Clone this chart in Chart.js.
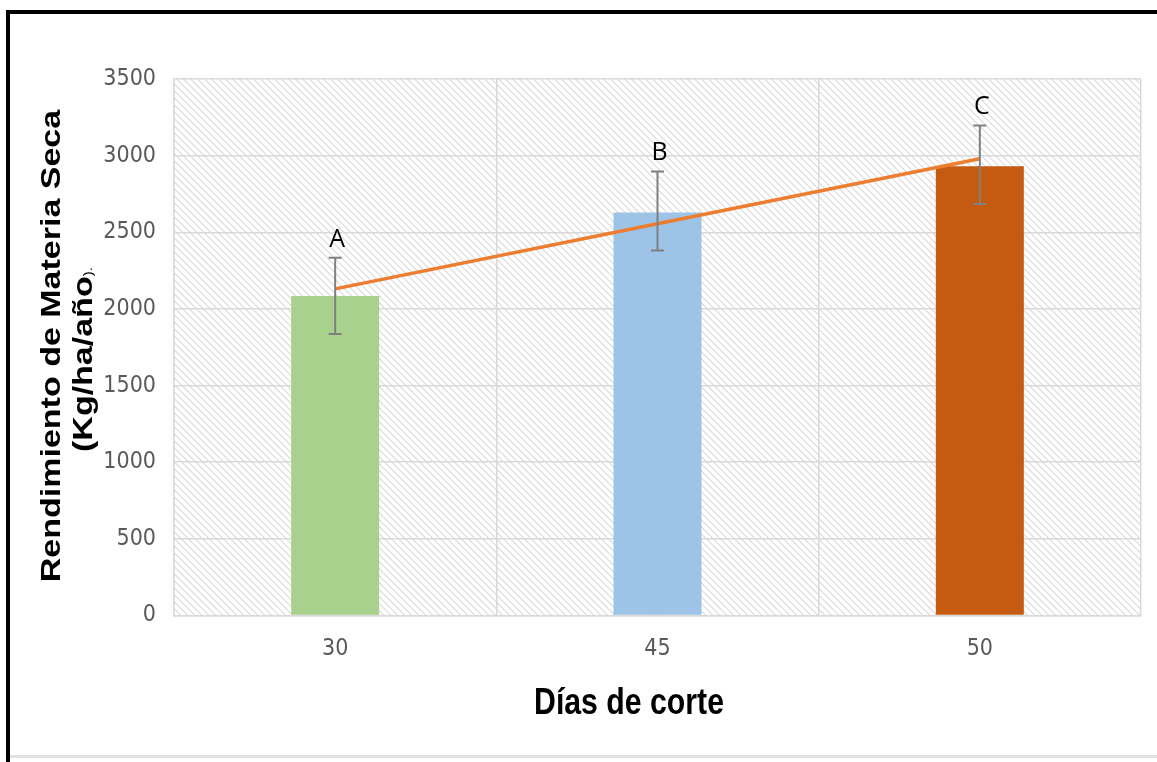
<!DOCTYPE html>
<html>
<head>
<meta charset="utf-8">
<script src="https://cdn.jsdelivr.net/npm/chart.js@4"></script>
<style>
  body { margin: 0; background: #fff; }
  #wrap { position: relative; width: 1157px; height: 762px; overflow: hidden; }
  #frame { position: absolute; left: 6px; top: 10px; right: -10px; bottom: -10px;
           border-top: 4px solid #000; border-left: 4px solid #000; }
  #foot { position: absolute; left: 10px; right: 0; top: 755px; height: 3px; background: #e2e2e2; }
</style>
</head>
<body>
<div id="wrap">
  <canvas id="chart" width="1157" height="762"></canvas>
  <div id="frame"></div>
  <div id="foot"></div>
</div>
<script>
const dias = ['30', '45', '50'];
const rendimiento = [2085, 2629, 2930];
const errHigh = [2334, 2897, 3197];
const errLow = [1837, 2381, 2684];
const letras = ['A', 'B', 'C'];
const tendencia = [2131, 2556, 2980];
const colores = ['#A9D18E', '#9DC3E6', '#C55A11'];
const yTicks = [0, 500, 1000, 1500, 2000, 2500, 3000, 3500];

const tickFont = { family: "'Liberation Sans Narrow', 'DejaVu Sans Condensed', sans-serif", size: 23 };

// hatched plot background
const hatch = {
  id: 'hatch',
  beforeDraw(chart) {
    const { ctx, chartArea: a } = chart;
    ctx.save();
    ctx.beginPath();
    ctx.rect(a.left, a.top, a.right - a.left, a.bottom - a.top);
    ctx.clip();
    ctx.strokeStyle = '#c6c6c6';
    ctx.lineWidth = 1;
    ctx.beginPath();
    const h = a.bottom - a.top;
    for (let x = a.left - h; x < a.right; x += 7) {
      ctx.moveTo(x, a.top);
      ctx.lineTo(x + h, a.bottom);
    }
    ctx.stroke();
    ctx.restore();
  }
};

// error bars + letters
const errores = {
  id: 'errores',
  afterDatasetsDraw(chart) {
    const { ctx } = chart;
    const xs = chart.scales.x, ys = chart.scales.y;
    ctx.save();
    ctx.strokeStyle = '#808080';
    ctx.lineWidth = 2;
    dias.forEach((d, i) => {
      const x = xs.getPixelForValue(i);
      const t = ys.getPixelForValue(errHigh[i]);
      const b = ys.getPixelForValue(errLow[i]);
      ctx.beginPath();
      ctx.moveTo(x, t); ctx.lineTo(x, b);
      ctx.moveTo(x - 6.5, t); ctx.lineTo(x + 6.5, t);
      ctx.moveTo(x - 6.5, b); ctx.lineTo(x + 6.5, b);
      ctx.stroke();
      ctx.fillStyle = '#000';
      ctx.font = "25px 'Open Sans', sans-serif";
      ctx.textAlign = 'center';
      ctx.textBaseline = 'alphabetic';
      ctx.fillText(letras[i], x + 2, t - 11);
    });
    ctx.restore();
  }
};

// axis titles (squeezed like the original image)
const titulos = {
  id: 'titulos',
  afterDraw(chart) {
    const { ctx } = chart;
    ctx.save();
    ctx.fillStyle = '#000';
    ctx.textBaseline = 'alphabetic';
    // x title
    ctx.save();
    ctx.translate(629, 714);
    ctx.scale(0.84, 1);
    ctx.font = "bold 36px 'Liberation Sans', Arial, sans-serif";
    ctx.textAlign = 'center';
    ctx.fillText('Días de corte', 0, 0);
    ctx.restore();
    // y title line 1
    ctx.save();
    ctx.translate(60, 346);
    ctx.rotate(-Math.PI / 2);
    ctx.scale(1, 0.84);
    ctx.font = "bold 34px 'Liberation Sans', Arial, sans-serif";
    ctx.textAlign = 'center';
    ctx.fillText('Rendimiento de Materia Seca', 0, 0);
    ctx.restore();
    // y title line 2
    ctx.save();
    ctx.translate(92, 452);
    ctx.rotate(-Math.PI / 2);
    ctx.scale(1, 0.84);
    ctx.font = "bold 34px 'Liberation Sans', Arial, sans-serif";
    ctx.textAlign = 'left';
    const parte = '(Kg/ha/año';
    ctx.fillText(parte, 0, 0);
    const w = ctx.measureText(parte).width;
    ctx.font = "15px 'Liberation Sans', Arial, sans-serif";
    ctx.fillText(').', w, 0);
    ctx.restore();
    ctx.restore();
  }
};

const ctx = document.getElementById('chart').getContext('2d');
const chart = new Chart(ctx, {
  type: 'bar',
  data: {
    labels: dias,
    datasets: [
      {
        type: 'line',
        data: tendencia,
        borderColor: '#ED7D31',
        borderWidth: 3.5,
        pointRadius: 0,
        tension: 0,
        fill: false,
        order: 0
      },
      {
        type: 'bar',
        data: rendimiento,
        backgroundColor: colores,
        borderWidth: 0,
        barPercentage: 0.273,
        categoryPercentage: 1,
        order: 1
      }
    ]
  },
  options: {
    responsive: false,
    devicePixelRatio: 1,
    animation: false,
    layout: { padding: { left: 0, top: 79, right: 16, bottom: 0 } },
    plugins: { legend: { display: false }, tooltip: { enabled: false } },
    scales: {
      x: {
        offset: true,
        grid: { color: '#d9d9d9', lineWidth: 1.5, drawTicks: false, offset: true },
        border: { color: '#d9d9d9', width: 1.5 },
        ticks: { color: '#595959', font: tickFont, padding: 20 },
        afterFit(scale) { scale.height = 146.5; }
      },
      y: {
        min: 0,
        max: 3500,
        afterBuildTicks(scale) { scale.ticks = yTicks.map(v => ({ value: v })); },
        grid: { color: '#d9d9d9', lineWidth: 1.5, drawTicks: false },
        border: { color: '#d9d9d9', width: 1.5 },
        ticks: { color: '#595959', font: tickFont, padding: 18, callback: v => String(v) },
        afterFit(scale) { scale.width = 174; }
      }
    }
  },
  plugins: [hatch, errores, titulos]
});
</script>
</body>
</html>
